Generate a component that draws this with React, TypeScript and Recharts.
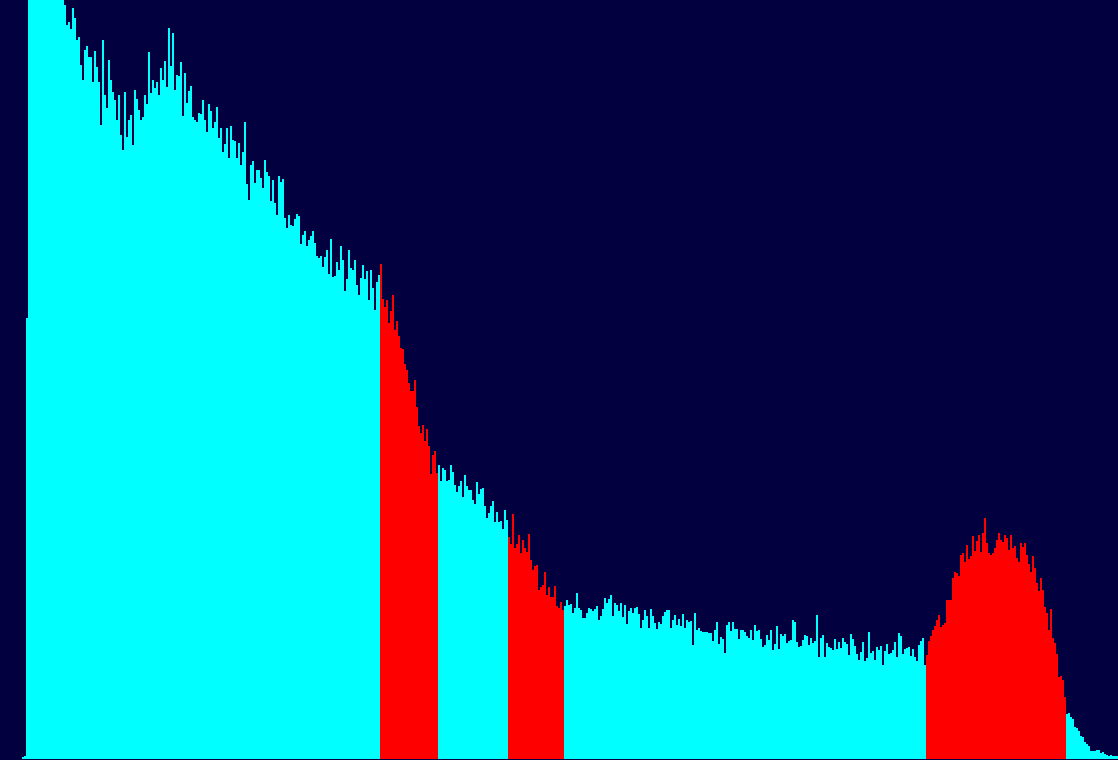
import { BarChart, Bar, XAxis, YAxis, Cell } from "recharts";

type Band = "cyan" | "red";

type DataPoint = {
    bin: number;
    count: number;
    band: Band;
};

// counts per 2px bin, left to right, split where the highlight colour changes
const leadIn: number[] = [0, 0, 0, 0, 0, 0, 0, 0, 0, 0, 0, 2, 3, 441];

const cyanA: number[] = [
    759, 759, 759, 759, 759, 759, 759, 759, 759, 759, 759, 759, 759, 759, 759, 759, 759, 759,
    754, 734, 737, 730, 751, 741, 719, 722, 694, 679,
    709, 713, 702, 702, 677, 708, 692, 677, 634, 719,
    664, 651, 699, 679, 667, 659, 639, 664, 624, 609,
    667, 622, 639, 644, 614, 669, 660, 649, 639, 642,
    664, 655, 707, 666, 679, 671, 677, 664, 691, 679,
    698, 672, 731, 693, 726, 669, 684, 683, 697, 643,
    686, 656, 668, 673, 642, 639, 637, 646, 645, 659,
    639, 627, 655, 648, 631, 637, 652, 621, 631, 607,
    615, 631, 601, 633, 619, 618, 601, 616, 594, 607,
    637, 575, 559, 594, 598, 576, 589, 589, 581, 571,
    599, 587, 583, 558, 579, 556, 544, 583, 577, 580,
    541, 531, 544, 534, 533, 540, 545, 543, 515, 524,
    528, 513, 519, 523, 528, 516, 503, 501, 503, 492,
    502, 509, 485, 520, 482, 483, 497, 489, 513, 499,
    468, 480, 509, 491, 489, 499, 474, 464, 481, 494,
    480, 488, 459, 489, 471, 449, 477, 484,
];

const redA: number[] = [
    495, 460, 452, 459, 436, 448, 464, 429, 438, 423,
    411, 410, 395, 389, 376, 368, 368, 379, 352, 333,
    326, 334, 318, 330, 313, 285, 304, 308, 286,
];

const cyanB: number[] = [
    294, 278, 291, 289, 278, 279, 294, 287, 274, 267,
    273, 278, 262, 284, 273, 269, 269, 259, 255, 277,
    265, 270, 271, 253, 241, 246, 253, 258, 237, 247,
    237, 238, 230, 249, 239,
];

const redB: number[] = [
    222, 215, 245, 211, 215, 224, 206, 219, 211, 207,
    225, 199, 189, 193, 194, 169, 172, 174, 187, 164,
    172, 162, 162, 173, 153, 151, 157, 149,
];

const cyanC: number[] = [
    153, 159, 154, 155, 146, 151, 166, 151, 149, 141,
    141, 146, 151, 150, 148, 150, 153, 139, 143, 150,
    161, 156, 160, 164, 143, 156, 154, 148, 156, 142,
    154, 135, 148, 151, 146, 151, 152, 145, 131, 139,
    149, 143, 131, 150, 143, 136, 130, 137, 135, 143,
    147, 149, 149, 131, 139, 144, 134, 140, 133, 145,
    131, 139, 137, 138, 114, 146, 129, 131, 128, 127,
    127, 127, 126, 126, 118, 129, 137, 115, 122, 120,
    106, 134, 137, 128, 137, 130, 130, 120, 129, 129,
    127, 123, 121, 129, 119, 134, 128, 129, 120, 112,
    114, 124, 119, 129, 109, 115, 133, 110, 125, 123,
    125, 116, 118, 119, 139, 137, 117, 112, 113, 119,
    124, 123, 114, 121, 116, 118, 144, 102, 121, 124,
    102, 116, 112, 111, 109, 120, 110, 117, 111, 121,
    117, 115, 104, 125, 120, 113, 105, 99, 107, 117,
    98, 101, 127, 106, 108, 99, 112, 109, 113, 94,
    108, 115, 105, 106, 109, 117, 102, 126, 123, 105,
    110, 111, 112, 103, 110, 102, 98, 114, 118, 121,
    94,
];

const redC: number[] = [
    104, 118, 123, 129, 133, 139, 144, 132, 134, 136,
    159, 159, 159, 181, 187, 186, 183, 204, 206, 197,
    214, 200, 203, 223, 208, 218, 224, 207, 226, 241,
    216, 206, 204, 206, 211, 219, 226, 219, 217, 224,
    221, 209, 224, 211, 213, 201, 197, 216, 212, 216,
    204, 195, 187, 203, 191, 176, 168, 181, 169, 152,
    146, 129, 150, 121, 116, 105, 82, 83, 79, 62,
];

const cyanD: number[] = [
    45, 46, 42, 40, 32, 31, 28, 23, 22, 17,
    15, 13, 8, 8, 8, 9, 9, 6, 7, 5,
    4, 3, 4, 3, 3, 3,
];

const segments: { band: Band; values: number[] }[] = [
    { band: "cyan", values: leadIn },
    { band: "cyan", values: cyanA },
    { band: "red", values: redA },
    { band: "cyan", values: cyanB },
    { band: "red", values: redB },
    { band: "cyan", values: cyanC },
    { band: "red", values: redC },
    { band: "cyan", values: cyanD },
];

const data: DataPoint[] = segments
    .flatMap((s) => s.values.map((count) => ({ count, band: s.band })))
    .map((d, i) => ({ bin: i, ...d }));

const colors: Record<Band, string> = {
    cyan: "#00ffff",
    red: "#ff0000",
};

export default function App() {
    return (
        <div
            style={{
                position: "fixed",
                left: 0,
                top: 0,
                width: 1118,
                height: 760,
                background: "#03003f",
            }}
        >
            <BarChart
                width={1118}
                height={760}
                data={data}
                margin={{ top: 0, right: 0, bottom: 1, left: 0 }}
                barCategoryGap={0}
                barGap={0}
            >
                <XAxis dataKey="bin" hide />
                <YAxis hide domain={[0, 759]} allowDataOverflow />
                <Bar dataKey="count" isAnimationActive={false}>
                    {data.map((d) => (
                        <Cell key={d.bin} fill={colors[d.band]} />
                    ))}
                </Bar>
            </BarChart>
        </div>
    );
}
